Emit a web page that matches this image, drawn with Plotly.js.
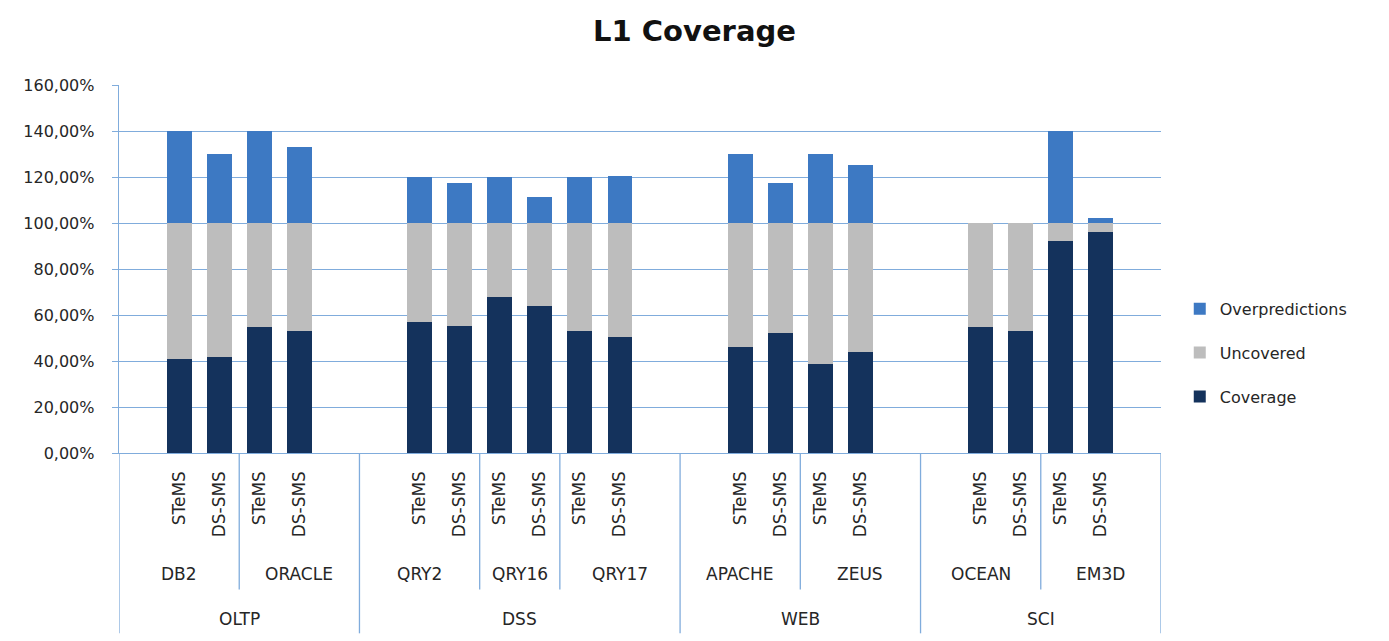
<!DOCTYPE html>
<html>
<head>
<meta charset="utf-8">
<script src="https://cdn.plot.ly/plotly-3.0.1.min.js"></script>
<style>
  html, body { margin: 0; padding: 0; background: #ffffff; }
  #chart { width: 1389px; height: 641px; }
</style>
</head>
<body>
<div id="chart"></div>
<script>
// ---- Data ----
const groups = ['OLTP', 'DSS', 'WEB', 'SCI'];
const benchmarks = ['DB2', 'ORACLE', 'QRY2', 'QRY16', 'QRY17', 'APACHE', 'ZEUS', 'OCEAN', 'EM3D'];
const benchmarkGroup = ['OLTP', 'OLTP', 'DSS', 'DSS', 'DSS', 'WEB', 'WEB', 'SCI', 'SCI'];
const variants = ['STeMS', 'DS-SMS'];

// one value per bar: benchmark order, STeMS then DS-SMS
const coverage        = [40.8, 41.7, 54.6, 53.1, 56.9, 55.4, 68.0, 63.7, 53.1, 50.4, 46.3, 52.3, 38.7, 43.9, 54.6, 53.1, 92.3, 95.9];
const uncovered       = [59.2, 58.3, 45.4, 46.9, 43.1, 44.6, 32.0, 36.3, 46.9, 49.6, 53.7, 47.7, 61.3, 56.1, 45.4, 46.9,  7.7,  4.1];
const overpredictions = [40.0, 30.2, 40.0, 33.0, 19.8, 17.2, 20.0, 11.1, 20.0, 20.6, 29.9, 17.2, 30.0, 25.4,  0.0,  0.0, 40.0,  2.3];

const seriesNames = ['Coverage', 'Uncovered', 'Overpredictions'];
const seriesColors = ['#14325C', '#BDBDBD', '#3D79C3'];
const legendRanks = [3, 2, 1];

// ---- Category slot layout (Excel multi-level axis with an empty slot at each group's ends) ----
const barX = [], barText = [];
const benchSpan = [];   // [start, end] in slot units
const groupSpan = [];
let slot = 0;
groups.forEach(g => {
  const gStart = slot - 0.5;
  slot += 1; // empty leading slot
  const bIdx = benchmarks.map((b, i) => i).filter(i => benchmarkGroup[i] === g);
  bIdx.forEach((bi, k) => {
    const bStart = (k === 0) ? gStart : slot - 0.5;
    variants.forEach(v => { barX.push(slot); barText.push(v); slot += 1; });
    if (k === bIdx.length - 1) slot += 1; // empty trailing slot
    const bEnd = slot - 0.5;
    benchSpan.push([bStart, bEnd]);
  });
  groupSpan.push([gStart, slot - 0.5]);
});

const values = [coverage, uncovered, overpredictions];
const traces = values.map((vals, i) => ({
  type: 'bar',
  name: seriesNames[i],
  x: barX,
  y: vals,
  width: 0.62,
  marker: { color: seriesColors[i], line: { width: 0 } },
  legendgroup: 'g' + i,
  legendrank: legendRanks[i],
  hoverinfo: 'skip'
}));

const lineColor = 'rgb(128,172,220)';
const yTop = 0, benchDrop = -0.371, groupDrop = -0.49;
const shapes = [];
benchSpan.forEach((s, i) => {
  const isGroupStart = groupSpan.some(gs => gs[0] === s[0]);
  if (!isGroupStart) {
    shapes.push({ type: 'line', xref: 'x', yref: 'paper', x0: s[0], x1: s[0], y0: yTop, y1: benchDrop,
      line: { color: lineColor, width: 1.3 } });
  }
});
groupSpan.forEach((s, i) => {
  shapes.push({ type: 'line', xref: 'x', yref: 'paper', x0: s[0], x1: s[0], y0: yTop, y1: groupDrop,
    line: { color: lineColor, width: 1.3 } });
  if (i === groupSpan.length - 1) {
    shapes.push({ type: 'line', xref: 'x', yref: 'paper', x0: s[1], x1: s[1], y0: yTop, y1: groupDrop,
      line: { color: lineColor, width: 1.3 } });
  }
});

const labelFont = { family: 'DejaVu Sans', size: 17, color: '#262626' };
const annotations = [];
benchmarks.forEach((b, i) => {
  annotations.push({ text: b, xref: 'x', yref: 'paper', x: (benchSpan[i][0] + benchSpan[i][1]) / 2,
    y: -0.330, xanchor: 'center', yanchor: 'middle', showarrow: false, font: labelFont });
});
groups.forEach((g, i) => {
  annotations.push({ text: g, xref: 'x', yref: 'paper', x: (groupSpan[i][0] + groupSpan[i][1]) / 2,
    y: -0.450, xanchor: 'center', yanchor: 'middle', showarrow: false, font: labelFont });
});

const layout = {
  width: 1389, height: 641,
  margin: { l: 119, r: 228, t: 85, b: 188, pad: 0 },
  paper_bgcolor: '#ffffff', plot_bgcolor: '#ffffff',
  font: { family: 'DejaVu Sans', color: '#262626' },
  separators: ', ',
  title: {
    text: '<b>L1 Coverage</b>',
    font: { family: 'DejaVu Sans', size: 29, color: '#111111' },
    x: 0.5, xref: 'container', xanchor: 'center',
    y: 1 - 31 / 641, yref: 'container', yanchor: 'middle'
  },
  barmode: 'stack',
  bargap: 0,
  showlegend: true,
  legend: {
    x: 1.018, xanchor: 'left', y: 0.272, yanchor: 'middle',
    traceorder: 'grouped', tracegroupgap: 20,
    font: { family: 'DejaVu Sans', size: 16, color: '#262626' },
    bgcolor: 'rgba(0,0,0,0)'
  },
  xaxis: {
    range: [-0.5, slot - 0.5],
    tickmode: 'array', tickvals: barX, ticktext: barText,
    tickangle: -90,
    tickfont: { family: 'DejaVu Sans', size: 17, color: '#262626' },
    ticks: '', ticklabelstandoff: 10,
    showgrid: false, zeroline: false,
    showline: true, linecolor: lineColor, linewidth: 1.3,
    fixedrange: true
  },
  yaxis: {
    range: [0, 160], dtick: 20, tick0: 0,
    tickformat: '.2f', ticksuffix: '%',
    tickfont: { family: 'DejaVu Sans', size: 16, color: '#262626' },
    ticks: 'outside', ticklen: 6, tickcolor: lineColor, ticklabelstandoff: 14,
    showgrid: true, gridcolor: lineColor, gridwidth: 1,
    zeroline: false,
    showline: true, linecolor: lineColor, linewidth: 1.3,
    fixedrange: true
  },
  shapes: shapes,
  annotations: annotations
};

Plotly.newPlot('chart', traces, layout, { displayModeBar: false, staticPlot: true });
</script>
</body>
</html>
